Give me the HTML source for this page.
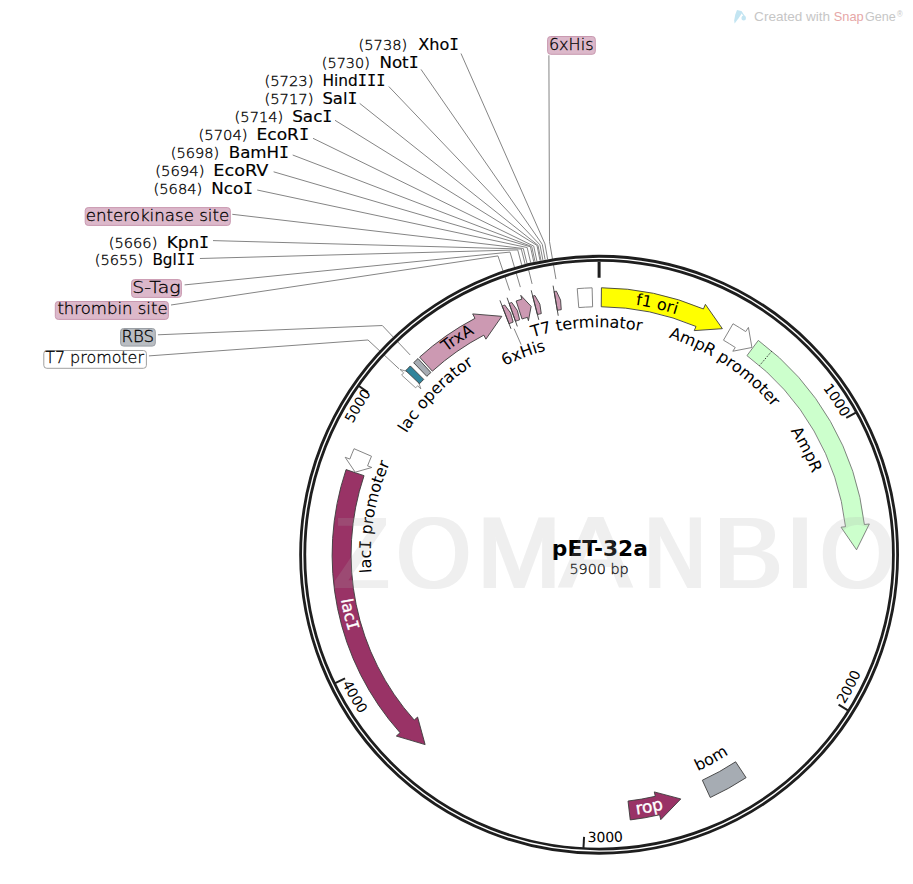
<!DOCTYPE html><html><head><meta charset="utf-8"><style>html,body{margin:0;padding:0;background:#fff;}svg{display:block}</style></head><body>
<svg width="913" height="884" viewBox="0 0 913 884">
<rect width="913" height="884" fill="#fff"/>
<polyline points="461.00,53.50 544.96,243.93 547.62,259.20" fill="none" stroke="#858585" stroke-width="1"/>
<polyline points="421.00,69.40 542.31,244.40 545.10,259.65" fill="none" stroke="#858585" stroke-width="1"/>
<polyline points="388.80,86.50 539.98,244.84 542.89,260.06" fill="none" stroke="#858585" stroke-width="1"/>
<polyline points="359.70,103.40 537.98,245.23 540.98,260.43" fill="none" stroke="#858585" stroke-width="1"/>
<polyline points="335.00,120.30 537.01,245.42 540.06,260.62" fill="none" stroke="#858585" stroke-width="1"/>
<polyline points="313.00,138.30 533.72,246.10 536.93,261.26" fill="none" stroke="#858585" stroke-width="1"/>
<polyline points="292.70,155.00 531.73,246.53 535.04,261.67" fill="none" stroke="#858585" stroke-width="1"/>
<polyline points="273.60,171.80 530.44,246.81 533.81,261.94" fill="none" stroke="#858585" stroke-width="1"/>
<polyline points="257.20,190.00 527.16,247.56 530.70,262.65" fill="none" stroke="#858585" stroke-width="1"/>
<polyline points="232.30,214.30 523.31,248.49 532.08,283.92" fill="none" stroke="#858585" stroke-width="1"/>
<polyline points="213.00,240.60 521.28,249.00 525.10,264.02" fill="none" stroke="#858585" stroke-width="1"/>
<polyline points="199.90,258.50 517.71,249.93 521.71,264.90" fill="none" stroke="#858585" stroke-width="1"/>
<polyline points="184.60,284.90 510.02,252.09 520.33,287.10" fill="none" stroke="#858585" stroke-width="1"/>
<polyline points="171.00,305.00 497.95,255.91 509.65,290.48" fill="none" stroke="#858585" stroke-width="1"/>
<polyline points="157.90,334.80 382.32,325.52 410.15,354.94" fill="none" stroke="#858585" stroke-width="1"/>
<polyline points="148.90,355.90 367.98,339.98 399.12,368.91" fill="none" stroke="#858585" stroke-width="1"/>
<polyline points="548.9,55.3 549.51,241.65 555.94,279.11" fill="none" stroke="#858585" stroke-width="1"/>
<line x1="521.1" y1="344.5" x2="514.13" y2="328.69" stroke="#858585" stroke-width="1"/>
<circle cx="599.1" cy="554.75" r="296.4" fill="none" stroke="#1e1e1e" stroke-width="7.0"/>
<circle cx="599.1" cy="554.75" r="296.4" fill="none" stroke="#fff" stroke-width="1.4"/>
<line x1="599.10" y1="261.75" x2="599.10" y2="277.75" stroke="#1e1e1e" stroke-width="3"/>
<line x1="855.84" y1="412.53" x2="846.22" y2="417.86" stroke="#1e1e1e" stroke-width="2"/>
<line x1="847.91" y1="710.43" x2="838.58" y2="704.59" stroke="#1e1e1e" stroke-width="2"/>
<line x1="583.48" y1="847.83" x2="584.06" y2="836.85" stroke="#1e1e1e" stroke-width="2"/>
<line x1="335.15" y1="683.10" x2="345.04" y2="678.29" stroke="#1e1e1e" stroke-width="2"/>
<line x1="358.93" y1="386.05" x2="367.93" y2="392.37" stroke="#1e1e1e" stroke-width="2"/>
<path d="M401.62,375.06 A267.00,267.00 0 0 1 403.67,372.83 L400.01,369.42 L415.75,373.95 L420.87,388.84 L417.58,385.77 A248.00,248.00 0 0 0 415.67,387.84 Z" fill="#fff" stroke="#777" stroke-width="0.8" stroke-linejoin="miter"/>
<path d="M405.75,370.62 A267.00,267.00 0 0 1 410.30,365.95 L423.74,379.39 A248.00,248.00 0 0 0 419.51,383.72 Z" fill="#31849b" stroke="#3c3c3c" stroke-width="0.9" stroke-linejoin="miter"/>
<path d="M413.63,362.69 A267.00,267.00 0 0 1 418.03,358.53 L430.92,372.49 A248.00,248.00 0 0 0 426.82,376.35 Z" fill="#a6acb3" stroke="#3c3c3c" stroke-width="0.9" stroke-linejoin="miter"/>
<path d="M419.58,357.11 A267.00,267.00 0 0 1 474.99,318.35 L472.66,313.92 L501.81,316.34 L485.91,339.16 L483.82,335.17 A248.00,248.00 0 0 0 432.35,371.18 Z" fill="#cc99b2" stroke="#3c3c3c" stroke-width="0.9" stroke-linejoin="miter"/>
<path d="M502.11,305.99 A267.00,267.00 0 0 1 504.72,304.99 L510.61,312.93 L513.14,322.12 A248.00,248.00 0 0 0 509.01,323.69 Z" fill="#cc99b2" stroke="#3c3c3c" stroke-width="0.9" stroke-linejoin="miter"/>
<line x1="499.93" y1="300.40" x2="511.01" y2="328.81" stroke="#3c3c3c" stroke-width="0.9"/>
<path d="M509.10,303.38 A267.00,267.00 0 0 1 511.73,302.45 L517.39,310.56 L519.67,319.81 A248.00,248.00 0 0 0 515.50,321.27 Z" fill="#cc99b2" stroke="#3c3c3c" stroke-width="0.9" stroke-linejoin="miter"/>
<line x1="507.07" y1="297.73" x2="517.35" y2="326.44" stroke="#3c3c3c" stroke-width="0.9"/>
<path d="M516.15,300.96 A267.00,267.00 0 0 1 521.93,299.15 L520.77,295.32 L531.15,306.38 L528.43,320.69 L527.42,317.33 A248.00,248.00 0 0 0 522.05,319.02 Z" fill="#cc99b2" stroke="#3c3c3c" stroke-width="0.9" stroke-linejoin="miter"/>
<path d="M532.70,296.14 A267.00,267.00 0 0 1 534.96,295.57 L539.86,304.16 L541.29,313.58 A248.00,248.00 0 0 0 537.42,314.54 Z" fill="#cc99b2" stroke="#3c3c3c" stroke-width="0.9" stroke-linejoin="miter"/>
<line x1="531.21" y1="290.33" x2="538.79" y2="319.87" stroke="#3c3c3c" stroke-width="0.9"/>
<path d="M554.11,291.57 A267.00,267.00 0 0 1 556.41,291.18 L560.59,300.15 L561.25,309.66 A248.00,248.00 0 0 0 557.31,310.30 Z" fill="#cc99b2" stroke="#3c3c3c" stroke-width="0.9" stroke-linejoin="miter"/>
<line x1="553.10" y1="285.65" x2="558.24" y2="315.72" stroke="#3c3c3c" stroke-width="0.9"/>
<path d="M577.22,288.65 A267.00,267.00 0 0 1 592.11,287.84 L592.61,306.83 A248.00,248.00 0 0 0 578.78,307.58 Z" fill="#fff" stroke="#777" stroke-width="0.9" stroke-linejoin="miter"/>
<path d="M601.43,287.76 A267.00,267.00 0 0 1 703.43,308.98 L705.38,304.37 L722.36,328.67 L694.24,330.61 L696.00,326.46 A248.00,248.00 0 0 0 601.26,306.76 Z" fill="#ffff00" stroke="#3c3c3c" stroke-width="0.9" stroke-linejoin="miter"/>
<path d="M733.00,323.75 A267.00,267.00 0 0 1 745.69,331.59 L748.43,327.41 L751.91,347.49 L732.79,351.23 L735.26,347.47 A248.00,248.00 0 0 0 723.47,340.19 Z" fill="#fff" stroke="#777" stroke-width="0.9" stroke-linejoin="miter"/>
<path d="M758.29,340.40 A267.00,267.00 0 0 1 864.38,524.52 L869.35,523.96 L856.55,549.81 L841.03,527.19 L845.51,526.68 A248.00,248.00 0 0 0 746.96,355.65 Z" fill="#ccffcc" stroke="#666" stroke-width="0.8" stroke-linejoin="miter"/>
<line x1="771.79" y1="351.12" x2="759.50" y2="365.61" stroke="#333" stroke-width="1" stroke-dasharray="1.5,1.5"/>
<path d="M746.08,777.65 A267.00,267.00 0 0 1 710.25,797.52 L702.34,780.24 A248.00,248.00 0 0 0 735.62,761.79 Z" fill="#a6acb3" stroke="#3c3c3c" stroke-width="0.9" stroke-linejoin="miter"/>
<path d="M630.25,819.93 A267.00,267.00 0 0 0 659.62,814.80 L660.75,819.67 L680.81,798.94 L654.29,791.91 L655.31,796.30 A248.00,248.00 0 0 1 628.03,801.06 Z" fill="#993366" stroke="#3c3c3c" stroke-width="0.9" stroke-linejoin="miter"/>
<path d="M346.05,469.59 A267.00,267.00 0 0 0 400.06,732.71 L396.33,736.05 L425.14,744.60 L417.58,717.05 L414.22,720.05 A248.00,248.00 0 0 1 364.05,475.65 Z" fill="#993366" stroke="#3c3c3c" stroke-width="0.9" stroke-linejoin="miter"/>
<path d="M354.06,448.71 A267.00,267.00 0 0 0 349.83,459.07 L345.17,457.27 L355.19,472.19 L371.77,467.49 L367.57,465.87 A248.00,248.00 0 0 1 371.50,456.26 Z" fill="#fff" stroke="#777" stroke-width="0.9" stroke-linejoin="miter"/>
<rect x="547.6" y="36.5" width="47.7" height="17.8" rx="3" ry="3" fill="#dcb8ca" stroke="#c999b0" stroke-width="1"/>
<rect x="85.2" y="207.6" width="145.1" height="17.8" rx="3" ry="3" fill="#dcb8ca" stroke="#c999b0" stroke-width="1"/>
<rect x="131.6" y="279.6" width="49.8" height="17.8" rx="3" ry="3" fill="#dcb8ca" stroke="#c999b0" stroke-width="1"/>
<rect x="55.3" y="301.5" width="113.1" height="17.9" rx="3" ry="3" fill="#dcb8ca" stroke="#c999b0" stroke-width="1"/>
<rect x="120.6" y="328.5" width="34.7" height="17.6" rx="3" ry="3" fill="#b9bdc2" stroke="#9a9fa5" stroke-width="1"/>
<rect x="43.8" y="350.5" width="102.6" height="17.8" rx="3" ry="3" fill="#ffffff" stroke="#a0a0a0" stroke-width="1"/>
<text transform="translate(358.62,49.90) scale(1.0837,1)" font-family="DejaVu Sans, sans-serif" font-size="13.5" font-weight="200" fill="#000" stroke="#000" stroke-width="0.3">(5738)</text>
<text transform="translate(418.20,49.90) scale(1.0421,1)" font-family="DejaVu Sans, sans-serif" font-size="15.5" font-weight="normal" fill="#000" stroke="#000" stroke-width="0.15">Xho<tspan font-family="DejaVu Sans Mono, monospace">I</tspan></text>
<text transform="translate(321.83,67.90) scale(1.0698,1)" font-family="DejaVu Sans, sans-serif" font-size="13.5" font-weight="200" fill="#000" stroke="#000" stroke-width="0.3">(5730)</text>
<text transform="translate(379.42,67.90) scale(1.0771,1)" font-family="DejaVu Sans, sans-serif" font-size="15.5" font-weight="normal" fill="#000" stroke="#000" stroke-width="0.15">Not<tspan font-family="DejaVu Sans Mono, monospace">I</tspan></text>
<text transform="translate(264.40,85.90) scale(1.0953,1)" font-family="DejaVu Sans, sans-serif" font-size="13.5" font-weight="200" fill="#000" stroke="#000" stroke-width="0.3">(5723)</text>
<text transform="translate(322.51,85.90) scale(0.9903,1)" font-family="DejaVu Sans, sans-serif" font-size="15.5" font-weight="normal" fill="#000" stroke="#000" stroke-width="0.15">Hind<tspan font-family="DejaVu Sans Mono, monospace">I</tspan><tspan font-family="DejaVu Sans Mono, monospace">I</tspan><tspan font-family="DejaVu Sans Mono, monospace">I</tspan></text>
<text transform="translate(264.40,103.90) scale(1.0953,1)" font-family="DejaVu Sans, sans-serif" font-size="13.5" font-weight="200" fill="#000" stroke="#000" stroke-width="0.3">(5717)</text>
<text transform="translate(322.44,103.90) scale(1.0613,1)" font-family="DejaVu Sans, sans-serif" font-size="15.5" font-weight="normal" fill="#000" stroke="#000" stroke-width="0.15">Sal<tspan font-family="DejaVu Sans Mono, monospace">I</tspan></text>
<text transform="translate(234.61,121.90) scale(1.0860,1)" font-family="DejaVu Sans, sans-serif" font-size="13.5" font-weight="200" fill="#000" stroke="#000" stroke-width="0.3">(5714)</text>
<text transform="translate(292.22,121.90) scale(1.0829,1)" font-family="DejaVu Sans, sans-serif" font-size="15.5" font-weight="normal" fill="#000" stroke="#000" stroke-width="0.15">Sac<tspan font-family="DejaVu Sans Mono, monospace">I</tspan></text>
<text transform="translate(198.50,139.90) scale(1.0953,1)" font-family="DejaVu Sans, sans-serif" font-size="13.5" font-weight="200" fill="#000" stroke="#000" stroke-width="0.3">(5704)</text>
<text transform="translate(256.50,139.90) scale(1.1000,1)" font-family="DejaVu Sans, sans-serif" font-size="15.5" font-weight="normal" fill="#000" stroke="#000" stroke-width="0.15">EcoR<tspan font-family="DejaVu Sans Mono, monospace">I</tspan></text>
<text transform="translate(170.72,157.90) scale(1.0791,1)" font-family="DejaVu Sans, sans-serif" font-size="13.5" font-weight="200" fill="#000" stroke="#000" stroke-width="0.3">(5698)</text>
<text transform="translate(228.72,157.90) scale(1.0759,1)" font-family="DejaVu Sans, sans-serif" font-size="15.5" font-weight="normal" fill="#000" stroke="#000" stroke-width="0.15">BamH<tspan font-family="DejaVu Sans Mono, monospace">I</tspan></text>
<text transform="translate(155.30,175.90) scale(1.0953,1)" font-family="DejaVu Sans, sans-serif" font-size="13.5" font-weight="200" fill="#000" stroke="#000" stroke-width="0.3">(5694)</text>
<text transform="translate(213.36,175.90) scale(1.1396,1)" font-family="DejaVu Sans, sans-serif" font-size="15.5" font-weight="normal" fill="#000" stroke="#000" stroke-width="0.15">EcoRV</text>
<text transform="translate(153.62,193.90) scale(1.0837,1)" font-family="DejaVu Sans, sans-serif" font-size="13.5" font-weight="200" fill="#000" stroke="#000" stroke-width="0.3">(5684)</text>
<text transform="translate(211.22,193.90) scale(1.0784,1)" font-family="DejaVu Sans, sans-serif" font-size="15.5" font-weight="normal" fill="#000" stroke="#000" stroke-width="0.15">Nco<tspan font-family="DejaVu Sans Mono, monospace">I</tspan></text>
<text transform="translate(108.82,247.70) scale(1.0814,1)" font-family="DejaVu Sans, sans-serif" font-size="13.5" font-weight="200" fill="#000" stroke="#000" stroke-width="0.3">(5666)</text>
<text transform="translate(166.71,247.70) scale(1.0865,1)" font-family="DejaVu Sans, sans-serif" font-size="15.5" font-weight="normal" fill="#000" stroke="#000" stroke-width="0.15">Kpn<tspan font-family="DejaVu Sans Mono, monospace">I</tspan></text>
<text transform="translate(94.72,265.20) scale(1.0814,1)" font-family="DejaVu Sans, sans-serif" font-size="13.5" font-weight="200" fill="#000" stroke="#000" stroke-width="0.3">(5655)</text>
<text transform="translate(152.42,265.20) scale(0.9833,1)" font-family="DejaVu Sans, sans-serif" font-size="15.5" font-weight="normal" fill="#000" stroke="#000" stroke-width="0.15">Bgl<tspan font-family="DejaVu Sans Mono, monospace">I</tspan><tspan font-family="DejaVu Sans Mono, monospace">I</tspan></text>
<text transform="translate(548.90,49.50) scale(1.0047,1)" font-family="DejaVu Sans, sans-serif" font-size="16" font-weight="200" fill="#000" stroke="#000" stroke-width="0.28">6xHis</text>
<text transform="translate(85.66,220.60) scale(1.0419,1)" font-family="DejaVu Sans, sans-serif" font-size="16" font-weight="200" fill="#000" stroke="#000" stroke-width="0.28">enterokinase site</text>
<text transform="translate(132.32,292.50) scale(1.1769,1)" font-family="DejaVu Sans, sans-serif" font-size="16" font-weight="200" fill="#000" stroke="#000" stroke-width="0.28">S-Tag</text>
<text transform="translate(57.40,314.40) scale(1.0330,1)" font-family="DejaVu Sans, sans-serif" font-size="16" font-weight="200" fill="#000" stroke="#000" stroke-width="0.28">thrombin site</text>
<text transform="translate(121.46,341.50) scale(1.0367,1)" font-family="DejaVu Sans, sans-serif" font-size="16" font-weight="200" fill="#000" stroke="#000" stroke-width="0.28">RBS</text>
<text transform="translate(45.20,363.30) scale(0.9950,1)" font-family="DejaVu Sans, sans-serif" font-size="16" font-weight="200" fill="#000" stroke="#000" stroke-width="0.28">T7 promoter</text>
<text transform="translate(551.86,556.30) scale(1.0367,1)" font-family="DejaVu Sans, sans-serif" font-size="21" font-weight="bold" fill="#000">pET-32a</text>
<text transform="translate(569.48,574.30) scale(1.0232,1)" font-family="DejaVu Sans, sans-serif" font-size="14" font-weight="200" fill="#000" stroke="#000" stroke-width="0.3">5900 bp</text>
<text transform="translate(754.10,21.30) scale(1.0438,1)" font-family="Liberation Sans, sans-serif" font-size="13" font-weight="normal" fill="#c6c6c6">Created with</text>
<text transform="translate(833.81,21.30) scale(0.9862,1)" font-family="Liberation Sans, sans-serif" font-size="13" font-weight="normal" fill="#e6a7a7">Snap</text>
<text transform="translate(864.90,21.30) scale(0.9688,1)" font-family="Liberation Sans, sans-serif" font-size="13" font-weight="normal" fill="#c6c6c6">Gene</text>
<text transform="translate(896.90,17.20) scale(0.8429,1)" font-family="Liberation Sans, sans-serif" font-size="9" font-weight="normal" fill="#c6c6c6">®</text>
<defs>
<path id="arc0" d="M532.59,337.19 A227.50,227.50 0 0 1 765.48,709.90"/>
<path id="arc1" d="M406.51,433.47 A227.60,227.60 0 0 1 826.53,563.49"/>
<path id="arc2" d="M504.62,366.08 A211.00,211.00 0 0 1 775.25,670.90"/>
<path id="arc3" d="M446.24,351.90 A254.00,254.00 0 0 1 832.91,654.00"/>
<path id="arc4" d="M635.55,304.89 A252.50,252.50 0 0 1 692.46,789.36"/>
<path id="arc5" d="M668.42,337.54 A228.00,228.00 0 0 1 647.67,777.52"/>
<path id="arc6" d="M790.53,430.91 A228.00,228.00 0 0 1 495.24,757.72"/>
<path id="arc7" d="M371.50,572.66 A228.30,228.30 0 0 1 787.25,425.44"/>
<path id="arc8" d="M341.00,599.80 A262.00,262.00 0 0 0 845.14,644.79"/>
<path id="arc9" d="M636.54,814.57 A262.50,262.50 0 0 0 696.58,311.02"/>
<path id="arc10" d="M697.71,771.14 A237.80,237.80 0 0 0 621.89,318.04"/>
<path id="arc11" d="M822.80,388.01 A279.00,279.00 0 0 1 488.74,811.00"/>
<path id="arc12" d="M844.50,704.54 A287.50,287.50 0 0 0 461.48,302.33"/>
<path id="arc13" d="M587.56,842.02 A287.50,287.50 0 0 0 752.73,311.74"/>
<path id="arc14" d="M342.03,683.48 A287.50,287.50 0 0 0 886.09,571.80"/>
<path id="arc15" d="M352.76,423.77 A279.00,279.00 0 0 1 877.93,545.01"/>
</defs>
<text font-family="DejaVu Sans, sans-serif" font-size="16" fill="#000"><textPath href="#arc0">T7 terminator</textPath></text>
<text font-family="DejaVu Sans, sans-serif" font-size="16" fill="#000"><textPath href="#arc1">lac operator</textPath></text>
<text font-family="DejaVu Sans, sans-serif" font-size="16" fill="#000"><textPath href="#arc2">6xHis</textPath></text>
<text font-family="DejaVu Sans, sans-serif" font-size="16" fill="#000"><textPath href="#arc3">TrxA</textPath></text>
<text font-family="DejaVu Sans, sans-serif" font-size="16" fill="#000"><textPath href="#arc4">f1 ori</textPath></text>
<text font-family="DejaVu Sans, sans-serif" font-size="16" fill="#000"><textPath href="#arc5">AmpR promoter</textPath></text>
<text font-family="DejaVu Sans, sans-serif" font-size="16" fill="#000"><textPath href="#arc6">AmpR</textPath></text>
<text font-family="DejaVu Sans, sans-serif" font-size="16" fill="#000"><textPath href="#arc7">lac<tspan font-family="DejaVu Sans Mono, monospace">I</tspan> promoter</textPath></text>
<text font-family="DejaVu Sans, sans-serif" font-size="16" fill="#fff" stroke="#fff" stroke-width="0.35"><textPath href="#arc8">lac<tspan font-family="DejaVu Sans Mono, monospace">I</tspan></textPath></text>
<text font-family="DejaVu Sans, sans-serif" font-size="17" fill="#fff" stroke="#fff" stroke-width="0.35"><textPath href="#arc9">rop</textPath></text>
<text font-family="DejaVu Sans, sans-serif" font-size="16" fill="#000"><textPath href="#arc10">bom</textPath></text>
<text font-family="DejaVu Sans, sans-serif" font-size="14" fill="#000"><textPath href="#arc11">1000</textPath></text>
<text font-family="DejaVu Sans, sans-serif" font-size="14" fill="#000"><textPath href="#arc12">2000</textPath></text>
<text font-family="DejaVu Sans, sans-serif" font-size="14" fill="#000"><textPath href="#arc13">3000</textPath></text>
<text font-family="DejaVu Sans, sans-serif" font-size="14" fill="#000"><textPath href="#arc14">4000</textPath></text>
<text font-family="DejaVu Sans, sans-serif" font-size="14" fill="#000"><textPath href="#arc15">5000</textPath></text>
<g fill="#c3e5f2"><path d="M737.0,10.0 L741.2,10.9 L742.4,12.4 L738.6,18.2 L734.6,23.4 L734.2,20.5 L735.3,14.5 Z"/><path d="M741.0,11.5 L744.2,16.2" stroke="#c3e5f2" stroke-width="1.2" fill="none"/><ellipse cx="743.7" cy="18.1" rx="2.3" ry="2.5"/></g>
<defs><filter id="wmdil" x="-10%" y="-10%" width="120%" height="120%"><feMorphology operator="dilate" radius="1.65 0"/></filter></defs>
<g opacity="0.19"><g filter="url(#wmdil)" fill="#acacac">
<text transform="translate(334.00,588.30) scale(0.9167,1.0353)" font-family="Liberation Sans, sans-serif" font-size="98">Z</text>
<text transform="translate(396.45,588.36) scale(0.9750,1.0357)" font-family="Liberation Sans, sans-serif" font-size="98">O</text>
<text transform="translate(477.39,588.30) scale(1.0197,1.0353)" font-family="Liberation Sans, sans-serif" font-size="98">M</text>
<text transform="translate(559.55,588.30) scale(1.1015,1.0353)" font-family="Liberation Sans, sans-serif" font-size="98">A</text>
<text transform="translate(644.28,588.30) scale(0.8709,1.0353)" font-family="Liberation Sans, sans-serif" font-size="98">N</text>
<text transform="translate(713.59,588.30) scale(1.0577,1.0353)" font-family="Liberation Sans, sans-serif" font-size="98">B</text>
<text transform="translate(785.15,588.30) scale(1.0778,1.0353)" font-family="Liberation Sans, sans-serif" font-size="98">I</text>
<text transform="translate(820.15,588.36) scale(0.9750,1.0357)" font-family="Liberation Sans, sans-serif" font-size="98">O</text>
</g></g>
</svg></body></html>
